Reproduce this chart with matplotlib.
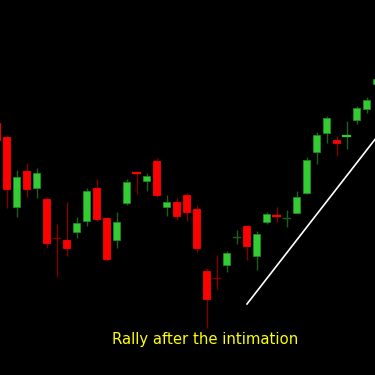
import numpy as np
import matplotlib
matplotlib.use("Agg")
import matplotlib.pyplot as plt

# candle data (open, high, low, close)
opens  = [252, 238, 168, 204, 187, 176, 137.0, 135, 143, 154, 187, 157, 135, 172, 202.5, 194, 214, 168, 173, 180,
          166, 104, 97.0, 110, 138.0, 149, 119, 153, 160, 157.0, 162, 182, 223, 242, 235, 239, 255, 266, 291]
highs  = [257, 240, 205, 212, 207, 178, 151, 173, 158, 187, 196, 158, 163, 196, 204, 202, 217, 180, 177, 182,
          170, 107, 120, 124, 145, 150, 144, 163, 168, 165, 184, 218, 243, 259, 239, 254, 269, 278, 298]
lows   = [230, 167, 158, 178, 177, 127, 98, 119, 137, 149, 154, 114, 127, 170, 181, 184, 178, 159, 155, 154,
          123, 47, 86, 103, 131, 115, 105, 151, 153, 148, 162, 181, 211, 232, 219, 226, 251, 262, 288]
closes = [235, 186, 198, 186, 202, 132, 136.8, 127, 152, 184, 156, 116, 153, 193, 201, 199, 180, 173, 159, 163,
          127, 76, 96.8, 122, 138.2, 129, 141, 161, 159, 157.2, 178, 215, 240, 257, 232, 240, 267, 275, 296]

trend_x = [25.05, 38.5]
trend_y = [71, 244]

label = "Rally after the intimation"

up_col, up_edge, up_wick = "#33cc33", "#1e8c1e", "#1d5e1d"
dn_col, dn_wick = "#ff0000", "#800000"

fig = plt.figure(figsize=(3.75, 3.75), dpi=100, facecolor="black")
ax = fig.add_axes([0, 0, 1, 1])
ax.set_facecolor("black")

w = 0.75
for i in range(len(opens)):
    o, h, l, c = opens[i], highs[i], lows[i], closes[i]
    up = c >= o
    wick = up_wick if up else dn_wick
    ax.plot([i, i], [l, h], color=wick, lw=1.0, zorder=1, solid_capstyle="butt")
    if abs(c - o) < 0.5:
        # doji cross
        ax.plot([i - w / 2, i + w / 2], [o, o], color=wick, lw=1.0, zorder=2)
    elif abs(c - o) < 2:
        ax.plot([i - w / 2, i + w / 2], [(o + c) / 2] * 2, color=up_col if up else dn_col, lw=1.6, zorder=2)
    else:
        ax.bar(i, abs(c - o), bottom=min(o, c), width=w,
               color=up_col if up else dn_col,
               edgecolor=up_edge if up else dn_col, linewidth=0.6, zorder=2)

ax.plot(trend_x, trend_y, color="white", lw=1.2, zorder=3)

ax.set_xlim(0.35, 37.85)
ax.set_ylim(0, 375)
ax.axis("off")

fig.text(0.547, 0.094, label, color="#ffff00", fontsize=10.7, ha="center", va="center")

fig.savefig("out.png", dpi=100, facecolor="black")
